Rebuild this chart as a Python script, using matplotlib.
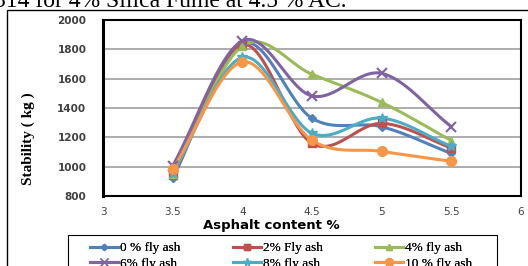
import numpy as np
import matplotlib.pyplot as plt
from matplotlib.lines import Line2D
from matplotlib.patches import Rectangle

# Data
asphalt = [3.5, 4.0, 4.5, 5.0, 5.5]
fly0 = [920, 1840, 1330, 1272, 1090]
fly2 = [940, 1832, 1158, 1295, 1128]
fly4 = [950, 1822, 1630, 1438, 1178]
fly6 = [1005, 1858, 1482, 1636, 1273]
fly8 = [960, 1745, 1228, 1331, 1138]
fly10 = [982, 1714, 1180, 1104, 1036]

labels = ['0 % fly ash', '2% Fly ash', '4% fly ash',
          '6% fly ash', '8% fly ash', '10 % fly ash']
series = [fly0, fly2, fly4, fly6, fly8, fly10]
colors = ['#4F81BD', '#C0504D', '#9BBB59', '#8064A2', '#4BACC6', '#F79646']
markers = ['D', 's', '^', 'x', '*', 'o']
msizes = [4, 6, 6, 7, 7, 7]


def smooth(x, y, n=30):
    # Catmull-Rom curve through the points (like Excel smoothed lines)
    x = np.asarray(x, float)
    y = np.asarray(y, float)
    px = np.concatenate([[2 * x[0] - x[1]], x, [2 * x[-1] - x[-2]]])
    py = np.concatenate([[2 * y[0] - y[1]], y, [2 * y[-1] - y[-2]]])
    t = np.linspace(0, 1, n)
    xs, ys = [], []
    for i in range(1, len(px) - 2):
        for p, out in ((px, xs), (py, ys)):
            p0, p1, p2, p3 = p[i - 1], p[i], p[i + 1], p[i + 2]
            out.extend(0.5 * (2 * p1 + (-p0 + p2) * t
                              + (2 * p0 - 5 * p1 + 4 * p2 - p3) * t ** 2
                              + (-p0 + 3 * p1 - 3 * p2 + p3) * t ** 3))
    return np.array(xs), np.array(ys)


fig = plt.figure(figsize=(5.28, 2.66), dpi=100)
W, H = 528, 266
ax = fig.add_axes([103 / W, 1 - 196 / H, (521 - 103) / W, (196 - 20) / H])

for ys, c, m, ms in zip(series, colors, markers, msizes):
    sx, sy = smooth(asphalt, ys)
    ax.plot(sx, sy, color=c, lw=2.2, zorder=3)
    ax.plot(asphalt, ys, ls='none', marker=m, color=c, ms=ms,
            mew=1.5 if m == 'x' else 1, zorder=4)

ax.set_xlim(3, 6)
ax.set_ylim(800, 2000)
ax.set_xticks([3, 3.5, 4, 4.5, 5, 5.5, 6])
ax.set_xticklabels(['3', '3.5', '4', '4.5', '5', '5.5', '6'])
ax.set_yticks(range(800, 2001, 200))
ax.grid(axis='y', color='#A0A0A0', lw=1.2)
ax.set_axisbelow(True)
for s in ax.spines.values():
    s.set_linewidth(1.5)
ax.spines['left'].set_linewidth(2.2)
ax.spines['top'].set_visible(False)
ax.plot([3, 6], [2000 - 2.5, 2000 - 2.5], color='black', lw=1.5, clip_on=False, zorder=5)
ax.tick_params(axis='y', length=0, labelsize=7.5, labelcolor='#404040', pad=12)
ax.tick_params(axis='x', length=0, labelsize=7.5, labelcolor='#404040', pad=8)
for lab in ax.get_yticklabels():
    lab.set_fontweight('bold')

fig.text(271 / W, 1 - 225 / H, 'Asphalt content %', ha='center', va='center',
         fontsize=9.5, fontweight='bold')
fig.text(28 / W, 1 - 139 / H, 'Stability ( kg )', rotation=90, ha='center', va='center',
         fontsize=11, fontweight='bold', family='Liberation Serif')

# outer frame of the chart area
fig.patches.append(Rectangle((7 / W, -0.1), 1.2, 1 - 10 / H + 0.1, transform=fig.transFigure,
                             fill=False, ec='black', lw=1))

# caption fragment above the chart
fig.text(-6 / W, 1 - 7 / H, '314 for 4% Silica Fume at 4.5 % AC.', fontsize=17,
         family='Liberation Serif', va='baseline', ha='left')

# legend box and three legend columns
fig.patches.append(Rectangle((68 / W, -0.1), (497 - 68) / W, 1 - 235 / H + 0.1,
                             transform=fig.transFigure, fill=False, ec='black', lw=0.8))
handles = [Line2D([], [], color=c, marker=m, ms=ms * 0.8, lw=2.2)
           for c, m, ms in zip(colors, markers, msizes)]
for j, x0 in enumerate([90, 233, 375]):
    leg = fig.legend([handles[j], handles[j + 3]], [labels[j], labels[j + 3]],
                     loc='upper left', bbox_to_anchor=(x0 / W, 1 - 242 / H),
                     frameon=False, prop={'family': 'Liberation Serif', 'size': 9.5},
                     handlelength=2.1, handletextpad=0.15, borderpad=0,
                     labelspacing=0.25, borderaxespad=0)
    fig.add_artist(leg)

plt.savefig('out.png', dpi=100)
